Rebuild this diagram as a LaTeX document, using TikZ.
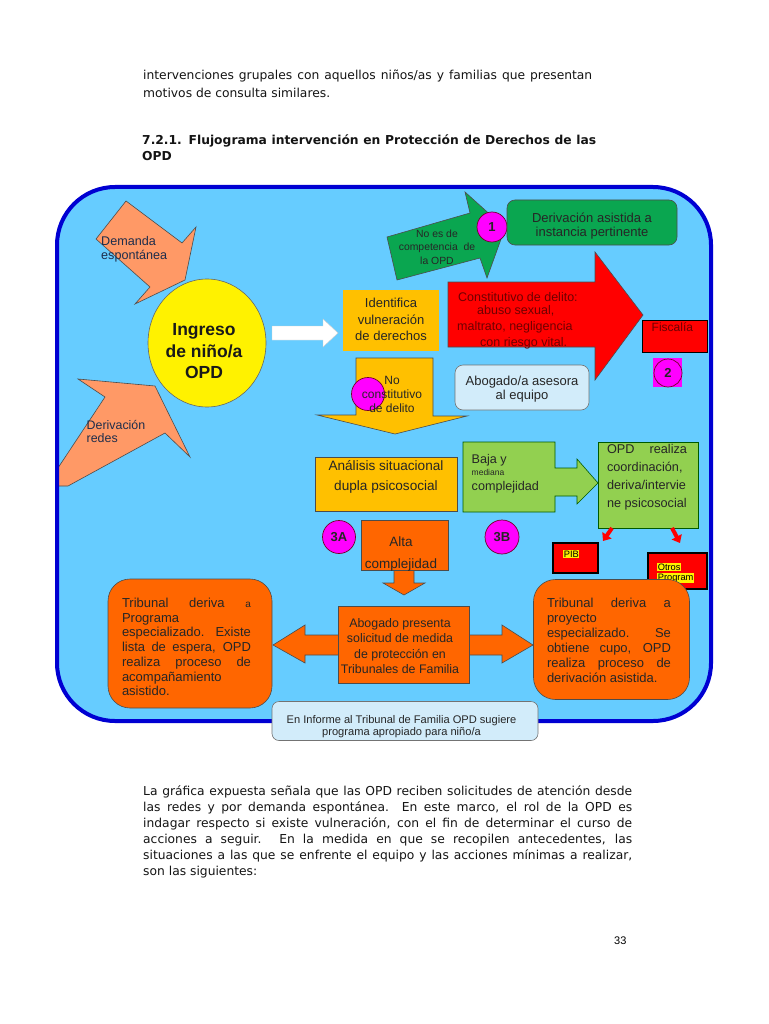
\documentclass[tikz,border=0pt]{standalone}
\usepackage{fontspec}
\usepackage{graphicx}
\setmainfont{Liberation Sans}
\newfontfamily\verd{DejaVu Sans}
\usetikzlibrary{shapes.geometric,arrows.meta}
\definecolor{frblue}{RGB}{0,0,210}
\definecolor{frfill}{RGB}{102,204,255}
\definecolor{salmon}{RGB}{255,153,102}
\definecolor{gold}{RGB}{255,192,0}
\definecolor{dgreen}{RGB}{10,166,80}
\definecolor{lgreen}{RGB}{146,208,80}
\definecolor{orng}{RGB}{255,102,0}
\definecolor{lblue}{RGB}{210,236,250}
\definecolor{mag}{RGB}{255,0,255}
\definecolor{maroon}{RGB}{110,0,0}
\definecolor{slate}{RGB}{30,45,75}
\newcommand{\fitj}[2]{\setbox0\hbox{#2}\ifdim\wd0>#1pt\relax\resizebox{#1pt}{\height}{#2}\else\makebox[#1pt][s]{#2}\fi}
\newcommand{\jl}[2]{\makebox[#1pt][s]{\spaceskip=0pt\xspaceskip=0pt #2}}
\begin{document}
\begin{tikzpicture}[x=1pt,y=-1pt,
  pg/.style={anchor=base west, inner sep=0, text=black!92, font=\verd\fontsize{12.3}{14}\selectfont},
  pgb/.style={anchor=base west, inner sep=0, text=black!92, font=\verd\bfseries\fontsize{12.3}{14}\selectfont},
  tx/.style={inner sep=0, align=center, text=black!85, font=\fontsize{13}{16}\selectfont},
  shp/.style={draw=black!70, line width=0.6},
  boxs/.style={draw=black!70, line width=0.6, inner sep=0},
  circ/.style={circle, draw=purple!60!black, line width=0.7, fill=mag, inner sep=0, text=black!85, font=\bfseries\fontsize{13}{13}\selectfont},
  redarr/.style={red, line width=4, -{Triangle[length=7pt,width=11pt]}}]
\useasboundingbox[fill=white] (0,0) rectangle (768,1024);

% ---------- page text ----------
\node[pg] (p1) at (143,79.5) {\fitj{449}{intervenciones grupales con aquellos niños/as y familias que presentan}};
\node[pg] (p2) at (143,98) {motivos de consulta similares.};
\node[pgb] (h1) at (142,145) {\fitj{454}{7.2.1. Flujograma intervención en Protección de Derechos de las}};
\node[pgb] (h2) at (142,161) {OPD};
\node[pg] (q1) at (143,795) {\fitj{489}{La gráfica expuesta señala que las OPD reciben solicitudes de atención desde}};
\node[pg] (q2) at (143,811) {\fitj{489}{las redes y por demanda espontánea. En este marco, el rol de la OPD es}};
\node[pg] (q3) at (143,827) {\fitj{489}{indagar respecto si existe vulneración, con el fin de determinar el curso de}};
\node[pg] (q4) at (143,843) {\fitj{489}{acciones a seguir. En la medida en que se recopilen antecedentes, las}};
\node[pg] (q5) at (143,859) {\fitj{489}{situaciones a las que se enfrente el equipo y las acciones mínimas a realizar,}};
\node[pg] (q6) at (143,875) {son las siguientes:};
\node[anchor=base west, inner sep=0, font=\fontsize{11}{12}\selectfont] (pnum) at (614,944) {33};

% ---------- frame ----------
\path[fill=frfill, rounded corners=58] (57,187) rectangle (711,721);
\begin{scope}
  \clip[rounded corners=58] (57,187) rectangle (711,721);
  \draw[shp, fill=salmon] (155,386) -- (190,457) -- (165,433) -- (68,486) -- (46,486) -- (105,397) -- (78,379) -- cycle;
\end{scope}
\draw[draw=frblue, line width=4, rounded corners=58] (57,187) rectangle (711,721);

% ---------- entry arrows and circle ----------
\draw[shp, fill=salmon] (126,201) -- (182,243) -- (196,227) -- (185,280) -- (135,304) -- (150,287) -- (96,239) -- cycle;
\node[anchor=west, align=left, inner sep=0, text=slate, font=\fontsize{12.6}{14}\selectfont] (dem) at (101,249) {Demanda\\espontánea};
\node[anchor=west, align=left, inner sep=0, text=slate, font=\fontsize{12.4}{13.5}\selectfont] (red) at (86.5,431.5) {Derivación\\redes};

\node[ellipse, draw=black!60, line width=0.6, fill=yellow, minimum width=118, minimum height=128, inner sep=0] (ingreso) at (207,343) {};
\node[inner sep=0, align=center, text=black!90, font=\bfseries\fontsize{17.5}{21.5}\selectfont] (ingt) at (204,351.5) {Ingreso\\de niño/a\\OPD};

\draw[draw=black!20, line width=0.4, fill=white] (272,326) -- (323,326) -- (323,319) -- (338,333) -- (323,347) -- (323,340) -- (272,340) -- cycle;

\node[fill=gold, minimum width=96, minimum height=61, inner sep=0] (ident) at (391,320.5) {};
\node[tx, font=\fontsize{13}{16.5}\selectfont] (identt) at (391,319.5) {Identifica\\vulneración\\de derechos};

% ---------- green branch ----------
\draw[shp, fill=dgreen] (387,237) -- (470,213) -- (465,192) -- (505,228) -- (487,278) -- (480,258) -- (397,280) -- cycle;
\node[tx, font=\fontsize{10.4}{13.5}\selectfont] (noes) at (437,247) {No es de\\competencia\ \ de\\la OPD};
\node[circ, minimum size=30] (c1) at (492,227) {1};
\node[boxs, fill=dgreen, rounded corners=8, minimum width=170, minimum height=45] (deriv) at (592,222.5) {};
\node[tx, font=\fontsize{13}{14}\selectfont] (derivt) at (592,226) {Derivación asistida a\\instancia pertinente};

% ---------- red branch ----------
\draw[shp, fill=red] (448,282) -- (595,282) -- (595,252) -- (643,315) -- (595,380) -- (595,347) -- (448,347) -- cycle;
\node[anchor=west, inner sep=0, text=maroon, font=\fontsize{12.5}{14}\selectfont] (r1) at (458,297) {Constitutivo de delito:};
\node[anchor=west, inner sep=0, text=maroon, font=\fontsize{12.5}{14}\selectfont] (r2) at (477,311) {abuso sexual,};
\node[anchor=west, inner sep=0, text=maroon, font=\fontsize{12.5}{14}\selectfont] (r3) at (457,327) {maltrato, negligencia};
\node[anchor=west, inner sep=0, text=maroon, font=\fontsize{12.5}{14}\selectfont] (r4) at (480,343) {con riesgo vital.};
\node[draw=black, line width=1, fill=red, minimum width=65, minimum height=32, inner sep=0] (fisc) at (674.5,336) {};
\node[anchor=west, inner sep=0, text=maroon, font=\fontsize{12}{13}\selectfont] (fisct) at (651.5,327) {Fiscalía};
\fill[mag] (653,358) rectangle (682,387);
\node[circ, minimum size=28] (c2) at (668,373) {2};

\node[boxs, draw=black!55, fill=lblue, rounded corners=8, minimum width=134, minimum height=45] (abog) at (522,387.5) {};
\node[tx, font=\fontsize{13}{14.3}\selectfont] (abogt) at (522,389) {Abogado/a asesora\\al equipo};

% ---------- no constitutivo ----------
\draw[shp, fill=gold] (356,358) -- (433,358) -- (433,416) -- (467,416) -- (395,434) -- (317,415) -- (356,415) -- cycle;
\node[circle, fill=mag, draw=purple!60!black, line width=0.7, minimum size=33, inner sep=0] (c0) at (368,394) {};
\node[tx, font=\fontsize{12}{14}\selectfont] (nocons) at (392,394) {No\\constitutivo\\de delito};

% ---------- analysis ----------
\node[boxs, fill=gold, minimum width=142, minimum height=54] (anal) at (386,484) {};
\node[tx, font=\fontsize{13.6}{20}\selectfont] (analt) at (386,477) {Análisis situacional\\dupla psicosocial};

\draw[draw=green!35!black, line width=0.6, fill=lgreen] (463,442) -- (555,442) -- (555,468) -- (577,468) -- (577,459) -- (598,483) -- (577,504) -- (577,496) -- (555,496) -- (555,512) -- (463,512) -- cycle;
\node[anchor=west, inner sep=0, text=black!85, font=\fontsize{12.6}{14}\selectfont] (baja) at (471.5,460) {Baja y};
\node[anchor=west, inner sep=0, text=black!85, font=\fontsize{8.5}{9}\selectfont] (med) at (471.5,472) {mediana};
\node[anchor=west, inner sep=0, text=black!85, font=\fontsize{12.6}{14}\selectfont] (compl) at (471.5,487) {complejidad};

\node[draw=green!35!black, line width=0.6, fill=lgreen, minimum width=100, minimum height=86, inner sep=0] (opd) at (648,485) {};
\node[inner sep=0, align=left, text=black!85, font=\fontsize{12.7}{18}\selectfont] (opdt) at (647,477) {\jl{80}{OPD realiza}\\coordinación,\\deriva/intervie\\ne psicosocial};

\coordinate (pa1) at (612,528);
\coordinate (pa2) at (603,541);
\coordinate (oa1) at (672,528);
\coordinate (oa2) at (680,543);
\draw[redarr] (pa1) -- (pa2);
\draw[redarr] (oa1) -- (oa2);

\node[draw=black, line width=1.3, fill=red, minimum width=45, minimum height=30, inner sep=0] (pib) at (575.5,558) {};
\node[anchor=west, fill=yellow, inner sep=0.6, font=\fontsize{9.3}{10}\selectfont] (pibt) at (563,554) {PIB};
\node[draw=black, line width=1.3, fill=red, minimum width=59, minimum height=36, inner sep=0] (otros) at (677.5,571) {};
\node[anchor=west, fill=yellow, inner sep=0.6, font=\fontsize{9.3}{10}\selectfont] (otrost) at (657,567) {Otros};
\node[anchor=west, fill=yellow, inner sep=0.6, font=\fontsize{9.3}{10}\selectfont] (progt) at (657,578) {Program};

% ---------- alta complejidad ----------
\draw[shp, fill=orng] (394,566) -- (414,566) -- (414,583) -- (425,583) -- (404,595) -- (383,583) -- (394,583) -- cycle;
\node[boxs, fill=orng, minimum width=87, minimum height=50] (alta) at (404.5,545) {};
\node[tx, font=\fontsize{13.5}{22}\selectfont] (altat) at (401,554) {Alta\\complejidad};
\node[circ, minimum size=33] (c3a) at (339,537) {3A};
\node[circ, minimum size=34] (c3b) at (502,537) {3B};

% ---------- bottom row ----------
\draw[shp, fill=orng] (273,645) -- (305,625) -- (305,635) -- (340,635) -- (340,655) -- (305,655) -- (305,663) -- cycle;
\draw[shp, fill=orng] (533,645) -- (502,625) -- (502,635) -- (467,635) -- (467,655) -- (502,655) -- (502,663) -- cycle;
\node[boxs, fill=orng, minimum width=131, minimum height=77] (abpres) at (403.5,644.5) {};
\node[tx, font=\fontsize{12.4}{15.3}\selectfont] (abprest) at (400,646) {Abogado presenta\\solicitud de medida\\de protección en\\Tribunales de Familia};

\node[boxs, fill=orng, rounded corners=22, minimum width=164, minimum height=129] (tribL) at (190,643.5) {};
\node[inner sep=0, align=left, text=black!85, font=\fontsize{13}{14.7}\selectfont] (tribLt) at (186.5,647) {\jl{129}{Tribunal deriva {\fontsize{10}{10}\selectfont a}}\\Programa\hspace*{70pt}\\\jl{129}{especializado. Existe}\\\jl{129}{lista de espera, OPD}\\\jl{129}{realiza proceso de}\\acompañamiento\\asistido.};

\node[boxs, fill=orng, rounded corners=22, minimum width=156, minimum height=120] (tribR) at (611.5,639.5) {};
\node[inner sep=0, align=left, text=black!85, font=\fontsize{13}{15}\selectfont] (tribRt) at (609,640.5) {\jl{124}{Tribunal deriva a}\\proyecto\\\jl{124}{especializado. Se}\\\jl{124}{obtiene cupo, OPD}\\\jl{124}{realiza proceso de}\\derivación asistida.};

\node[boxs, draw=black!55, fill=lblue, rounded corners=7, minimum width=266, minimum height=39] (inf) at (405,721) {};
\node[tx, font=\fontsize{11.1}{11.6}\selectfont] (inft) at (401.5,726.5) {En Informe al Tribunal de Familia OPD sugiere\\programa apropiado para niño/a};
\end{tikzpicture}
\end{document}
